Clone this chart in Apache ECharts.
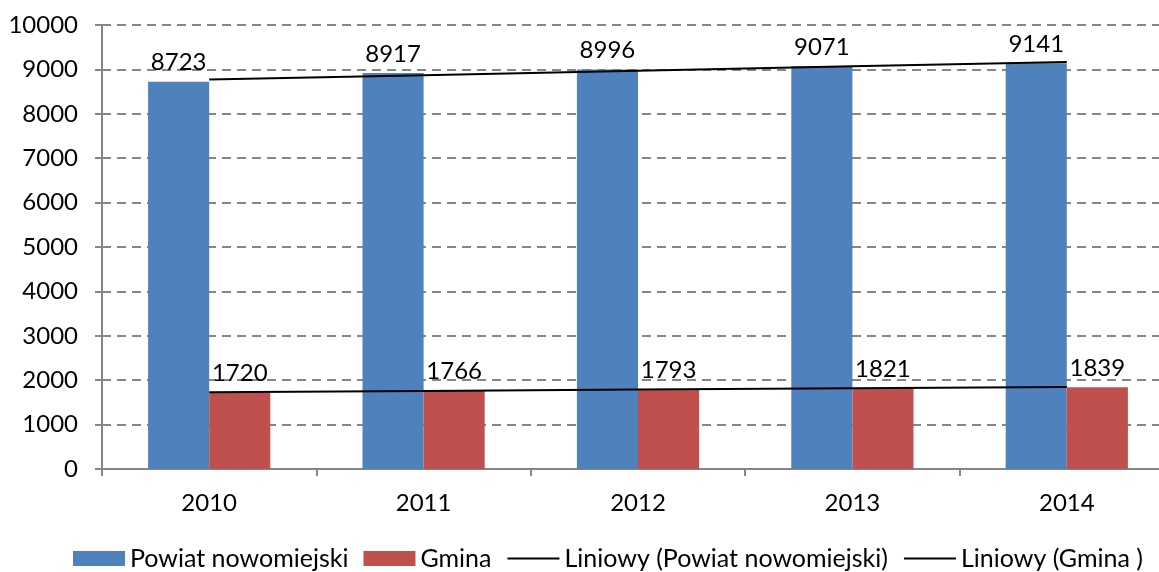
<!DOCTYPE html>
<html>
<head>
<meta charset="utf-8">
<script src="https://cdn.jsdelivr.net/npm/echarts@6/dist/echarts.min.js"></script>
<style>
  html, body { margin: 0; padding: 0; background: #fff; }
  #chart { width: 1159px; height: 572px; }
</style>
</head>
<body>
<div id="chart"></div>
<script>
// dane
const years = ['2010', '2011', '2012', '2013', '2014']
const powiat = [8723, 8917, 8996, 9071, 9141]
const gmina = [1720, 1766, 1793, 1821, 1839]
// linie trendu
const trendPowiat = [8772, 8871, 8970, 9069, 9168]
const trendGmina = [1729, 1758, 1788, 1817, 1846]

const FONT = 'Lato'
const chart = echarts.init(document.getElementById('chart'))

const labelStyle = {
  show: true,
  position: 'top',
  distance: 7,
  color: '#000',
  fontFamily: FONT,
  fontSize: 24
}

chart.setOption({
  animation: false,
  backgroundColor: '#fff',
  textStyle: { fontFamily: FONT },
  grid: { left: 102, width: 1072, top: 25, bottom: 103, containLabel: false, outerBoundsMode: 'none' },
  legend: {
    top: 541,
    left: 68,
    itemWidth: 52,
    itemHeight: 15,
    itemGap: 15,
    textStyle: { color: '#000', fontSize: 25, fontFamily: FONT },
    data: [
      { name: 'Powiat nowomiejski', icon: 'rect' },
      { name: 'Gmina', icon: 'rect' },
      { name: 'Liniowy (Powiat nowomiejski)', itemStyle: { opacity: 0 } },
      { name: 'Liniowy (Gmina )', itemStyle: { opacity: 0 } }
    ]
  },
  xAxis: {
    type: 'category',
    data: years,
    axisLine: { lineStyle: { color: '#868686', width: 2 } },
    axisTick: { show: true, length: 7, lineStyle: { color: '#868686', width: 2 } },
    axisLabel: { color: '#000', fontSize: 24, fontFamily: FONT, margin: 22 }
  },
  yAxis: {
    type: 'value',
    min: 0,
    max: 10000,
    interval: 1000,
    axisLine: { show: true, lineStyle: { color: '#868686', width: 2 } },
    axisTick: { show: true, length: 7, lineStyle: { color: '#868686', width: 2 } },
    axisLabel: { color: '#000', fontSize: 24, fontFamily: FONT, margin: 24, formatter: v => String(v) },
    splitLine: { lineStyle: { color: '#868686', width: 2, type: [9, 6] } }
  },
  series: [
    {
      name: 'Powiat nowomiejski',
      type: 'bar',
      data: powiat,
      barGap: '0%',
      barCategoryGap: '43%',
      itemStyle: { color: '#4f81bd' },
      label: labelStyle
    },
    {
      name: 'Gmina',
      type: 'bar',
      data: gmina,
      itemStyle: { color: '#c0504d' },
      label: labelStyle
    },
    {
      name: 'Liniowy (Powiat nowomiejski)',
      type: 'line',
      data: trendPowiat,
      symbol: 'none',
      lineStyle: { color: '#000', width: 2 },
      itemStyle: { color: '#000' },
      z: 5
    },
    {
      name: 'Liniowy (Gmina )',
      type: 'line',
      data: trendGmina,
      symbol: 'none',
      lineStyle: { color: '#000', width: 2 },
      itemStyle: { color: '#000' },
      z: 5
    }
  ]
})
</script>
</body>
</html>
